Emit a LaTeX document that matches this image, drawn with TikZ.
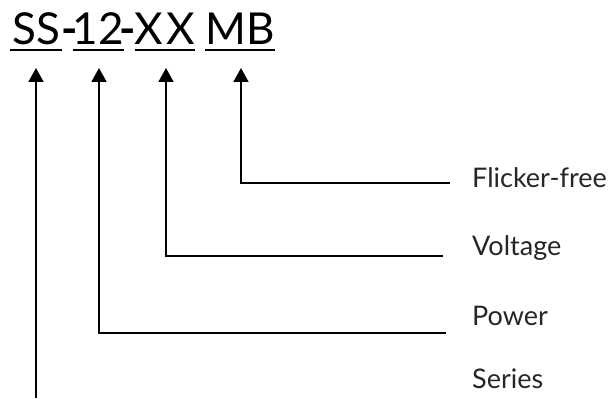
\documentclass[tikz,border=0pt]{standalone}
\usepackage{fontspec}
\setmainfont{Lato}
\usetikzlibrary{arrows.meta}
\tikzset{part/.style={anchor=base, inner sep=0pt, outer sep=0pt, text depth=0pt, font=\fontsize{44}{44}\selectfont},
  lbl/.style={anchor=base west, inner sep=0pt, font=\fontsize{27}{27}\selectfont\color{black!85}},
  uline/.style={line width=1.5pt},
  feed/.style={line width=1.8pt, -{Triangle[length=14pt, width=15pt]}, shorten >=23pt}}

\begin{document}
\begin{tikzpicture}[x=1pt, y=-1pt]
            \useasboundingbox (0, 0) rectangle (609, 398);
            % code parts
            \node[part, minimum width=52pt] (ss) at (36, 45) {SS};
            \node[part] (h1) at (69.5, 45) {\bfseries -};
            \node[part, minimum width=43pt] (pw) at (98.5, 45) {12};
            \node[part] (h2) at (127.5, 45) {\bfseries -};
            \node[part, minimum width=60pt] (xx) at (165, 45) {X\kern3pt X};
            \node[part, minimum width=64pt] (mb) at (240, 45) {MB};
            \foreach \p in {ss, pw, xx, mb} {
                \draw[uline] ([yshift=-5pt]\p.south west) -- ([yshift=-5pt]\p.south east);
            }
            % labels
            \node[lbl] (flk) at (472, 187) {Flicker-free};
            \node[lbl] (vol) at (472, 255) {Voltage};
            \node[lbl] (pow) at (472, 325) {Power};
            \node[lbl] (ser) at (472, 388) {Series};
            \coordinate (flk-end) at (450, 183);
            \coordinate (vol-end) at (443, 256);
            \coordinate (pow-end) at (446, 333);
            \coordinate (ser-end) at (36, 398);
            \draw[feed] (flk-end) -| ([xshift=1pt]mb.south);
            \draw[feed] (vol-end) -| ([xshift=1pt]xx.south);
            \draw[feed] (pow-end) -| ([xshift=0.5pt]pw.south);
            \draw[feed] (ser-end) -- (ss.south);
        \end{tikzpicture}
\end{document}
